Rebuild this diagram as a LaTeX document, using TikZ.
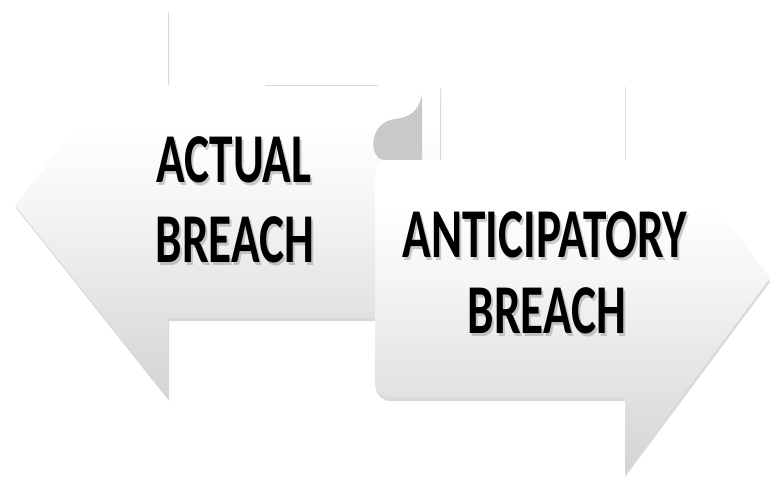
\documentclass[tikz,border=0pt]{standalone}
\usepackage{fontspec}
\setmainfont{Carlito}
\pgfdeclareverticalshading{armshade}{100bp}{color(0bp)=(gray!34); color(25bp)=(gray!34); color(50bp)=(gray!8); color(60bp)=(white); color(100bp)=(white)}
\begin{document}
\begin{tikzpicture}[x=1pt,y=-1pt,
  arrowfill/.style={shading=armshade, draw=none},
  shadowfill/.style={fill=black, opacity=0.15},
  faint/.style={draw=gray!30, line width=0.8pt},
  lbl/.style={font=\fontsize{70}{80}\selectfont\bfseries, anchor=base, xscale=0.675, transform shape, inner sep=0pt, text=black},
  lblshadow/.style={lbl, text=gray, opacity=0.4}]
\useasboundingbox (0,0) rectangle (770,480);
\fill[white] (0,0) rectangle (770,480);
% left arrow
\fill[shadowfill] (16,208) -- (169,15) -- (169,88) -- (441,88) -- (441,321) -- (169,321) -- (169,401) -- cycle;
\path[arrowfill]
  (15,205) -- (168,12) -- (168,85) -- (440,85) -- (440,318) -- (168,318) -- (168,398) -- cycle;
\draw[faint] (168,12) -- (168,85);
\draw[faint] (265,85) -- (378,85);
\draw[faint] (440,100) -- (440,160);
% blob
\fill[gray!42] (422,160) -- (385,160) .. controls (368,160) and (368,122) .. (395,119)
  .. controls (410,117) and (418,112) .. (422,95) -- cycle;
% right arrow
\fill[shadowfill, rounded corners=14] (625,401) -- (376,401) -- (376,164) [sharp corners] -- (625,164)
  -- (625,91) -- (770,282) -- (625,477) -- cycle;
\path[arrowfill]
  [rounded corners=14] (625,397) -- (375,397) -- (375,160) [sharp corners] -- (625,160)
  -- (625,87) -- (770,278) -- (625,473) -- cycle;
\draw[faint] (625,87) -- (625,160);
% labels
\node[lblshadow] at (236,185.5) {ACTUAL};
\node[lblshadow] at (237,265.5) {BREACH};
\node[lblshadow] at (547,260.5) {ANTICIPATORY};
\node[lblshadow] at (549,336.5) {BREACH};
\node[lbl] (a1) at (234,182) {ACTUAL};
\node[lbl] (a2) at (235,262) {BREACH};
\node[lbl] (b1) at (545,257) {ANTICIPATORY};
\node[lbl] (b2) at (547,333) {BREACH};
\end{tikzpicture}
\end{document}
